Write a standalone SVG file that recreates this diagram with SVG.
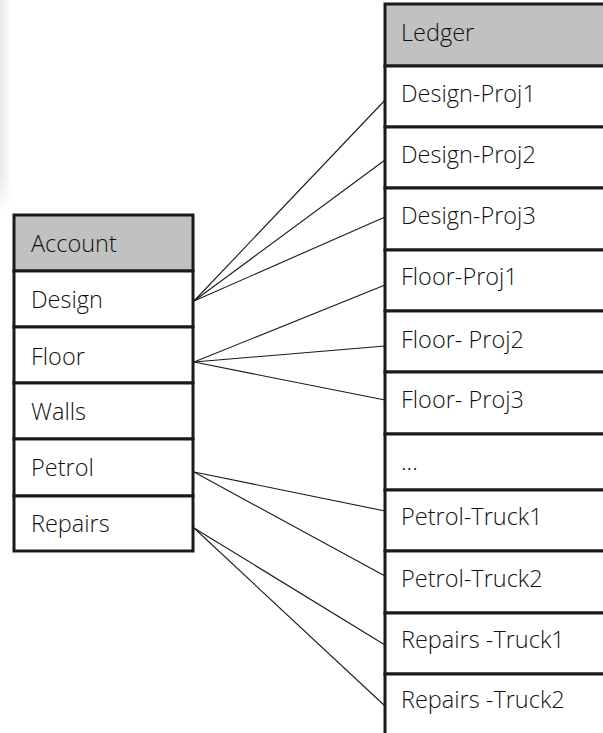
<svg xmlns="http://www.w3.org/2000/svg" width="603" height="733" viewBox="0 0 603 733">
<defs>
<linearGradient id="shade" x1="0" y1="0" x2="1" y2="0">
<stop offset="0" stop-color="#e6e6e6"/>
<stop offset="1" stop-color="#ffffff"/>
</linearGradient>
<linearGradient id="shadeV" x1="0" y1="0" x2="0" y2="1">
<stop offset="0.8" stop-color="#ffffff" stop-opacity="0"/>
<stop offset="1" stop-color="#ffffff" stop-opacity="1"/>
</linearGradient>
<style>
.cell{fill:#ffffff;stroke:#1a1a1a;stroke-width:3}
.head{fill:#c0c1c0;stroke:#1a1a1a;stroke-width:3}
.t{font-family:"Open Sans","Noto Sans","Liberation Sans",sans-serif;font-size:23.5px;font-weight:300;fill:#111111}
.c{stroke:#1a1a1a;stroke-width:1.1;fill:none}
</style>
</defs>
<rect x="0" y="0" width="603" height="733" fill="#ffffff"/>
<rect x="0" y="0" width="12" height="215" fill="url(#shade)"/>
<rect x="0" y="0" width="12" height="215" fill="url(#shadeV)"/>

<g id="connectors">
<line class="c" x1="194" y1="301" x2="388" y2="97"/>
<line class="c" x1="194" y1="301" x2="385" y2="160"/>
<line class="c" x1="194" y1="301" x2="385" y2="217"/>
<line class="c" x1="194" y1="362" x2="385" y2="285"/>
<line class="c" x1="194" y1="362" x2="385" y2="346"/>
<line class="c" x1="194" y1="362" x2="385" y2="400"/>
<line class="c" x1="194" y1="472" x2="385" y2="511"/>
<line class="c" x1="194" y1="472" x2="385" y2="576"/>
<line class="c" x1="194" y1="528" x2="385" y2="645"/>
<line class="c" x1="194" y1="528" x2="385" y2="706"/>
</g>

<g id="account">
<g id="account-header"><rect class="head" x="14" y="215" width="179" height="56"/><text class="t" x="31" y="252">Account</text></g>
<g id="account-design"><rect class="cell" x="14" y="271" width="179" height="56"/><text class="t" x="31" y="308">Design</text></g>
<g id="account-floor"><rect class="cell" x="14" y="327" width="179" height="56"/><text class="t" x="31" y="365">Floor</text></g>
<g id="account-walls"><rect class="cell" x="14" y="383" width="179" height="56"/><text class="t" x="31" y="420">Walls</text></g>
<g id="account-petrol"><rect class="cell" x="14" y="439" width="179" height="57"/><text class="t" x="31" y="476">Petrol</text></g>
<g id="account-repairs"><rect class="cell" x="14" y="496" width="179" height="55"/><text class="t" x="31" y="532">Repairs</text></g>
</g>

<g id="ledger">
<g id="ledger-header"><rect class="head" x="385" y="4" width="240" height="62"/><text class="t" x="401" y="41">Ledger</text></g>
<g id="ledger-design-proj1"><rect class="cell" x="385" y="66" width="240" height="61"/><text class="t" x="401" y="102">Design-Proj1</text></g>
<g id="ledger-design-proj2"><rect class="cell" x="385" y="127" width="240" height="61"/><text class="t" x="401" y="163">Design-Proj2</text></g>
<g id="ledger-design-proj3"><rect class="cell" x="385" y="188" width="240" height="62"/><text class="t" x="401" y="224">Design-Proj3</text></g>
<g id="ledger-floor-proj1"><rect class="cell" x="385" y="250" width="240" height="61"/><text class="t" x="401" y="285">Floor-Proj1</text></g>
<g id="ledger-floor-proj2"><rect class="cell" x="385" y="311" width="240" height="61"/><text class="t" x="401" y="348">Floor- Proj2</text></g>
<g id="ledger-floor-proj3"><rect class="cell" x="385" y="372" width="240" height="62"/><text class="t" x="401" y="408">Floor- Proj3</text></g>
<g id="ledger-more"><rect class="cell" x="385" y="434" width="240" height="56"/><text class="t" x="401" y="470">...</text></g>
<g id="ledger-petrol-truck1"><rect class="cell" x="385" y="490" width="240" height="61"/><text class="t" x="401" y="525">Petrol-Truck1</text></g>
<g id="ledger-petrol-truck2"><rect class="cell" x="385" y="551" width="240" height="62"/><text class="t" x="401" y="587">Petrol-Truck2</text></g>
<g id="ledger-repairs-truck1"><rect class="cell" x="385" y="613" width="240" height="61"/><text class="t" x="401" y="648">Repairs -Truck1</text></g>
<g id="ledger-repairs-truck2"><rect class="cell" x="385" y="674" width="240" height="70"/><text class="t" x="401" y="708">Repairs -Truck2</text></g>
</g>
</svg>
